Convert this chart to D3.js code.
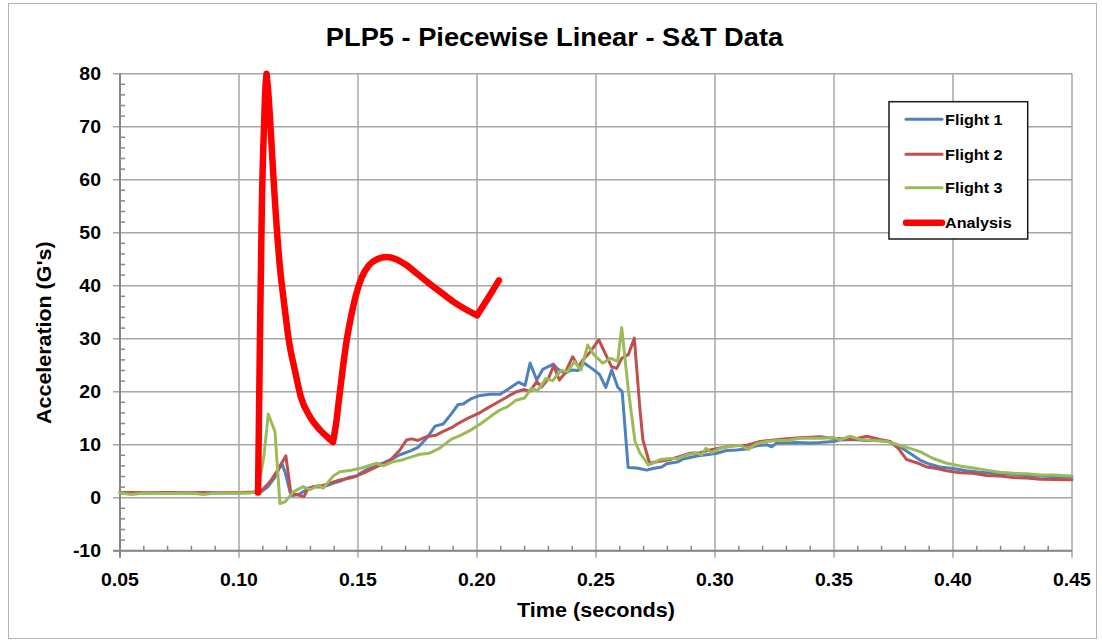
<!DOCTYPE html>
<html>
<head>
<meta charset="utf-8">
<script src="https://cdn.jsdelivr.net/npm/d3@7"></script>
<style>
  html, body { margin: 0; padding: 0; background: #ffffff; }
  svg { display: block; }
  text { font-family: "Liberation Sans", Arial, sans-serif; font-weight: bold; fill: #000; }
</style>
</head>
<body>
<svg id="chart" width="1102" height="642"></svg>
<script>
// ---- Data: time (s), acceleration (G's) ----
const flight1 = [
  [0.050,0.9],[0.060,0.9],[0.070,0.9],[0.080,0.9],[0.090,0.9],[0.100,0.9],[0.106,1.0],[0.109,1.0],
  [0.112,2.0],[0.115,3.8],[0.118,6.5],[0.1195,4.6],[0.1215,1.0],[0.1225,0.4],[0.125,0.6],[0.128,1.4],
  [0.131,2.0],[0.134,2.0],[0.137,2.3],[0.140,2.8],[0.143,3.2],[0.146,3.8],[0.1494,4.1],[0.152,4.9],
  [0.155,5.6],[0.1578,6.2],[0.161,6.6],[0.1648,7.4],[0.1676,8.1],[0.1718,8.8],[0.1752,9.5],[0.1788,11.2],
  [0.1824,13.5],[0.1858,13.9],[0.1894,15.9],[0.1921,17.6],[0.1942,17.7],[0.1977,18.7],[0.2013,19.3],
  [0.2055,19.5],[0.2097,19.5],[0.2132,20.5],[0.2174,21.8],[0.2202,21.2],[0.2223,25.4],[0.2251,22.2],
  [0.2276,24.2],[0.2321,25.2],[0.2341,24.2],[0.2370,23.5],[0.2398,24.1],[0.2424,24.0],[0.2450,25.4],
  [0.2482,24.4],[0.2514,23.3],[0.2541,20.8],[0.2566,24.1],[0.2591,20.9],[0.2610,20.0],[0.2635,5.7],
  [0.2671,5.6],[0.2713,5.2],[0.2739,5.5],[0.2776,5.8],[0.2797,6.4],[0.2846,6.8],[0.2866,7.3],[0.2895,7.6],
  [0.2929,7.9],[0.2965,8.1],[0.3007,8.4],[0.3049,8.9],[0.3091,9.0],[0.3133,9.2],[0.3175,9.8],[0.3217,10.0],
  [0.3238,9.6],[0.3259,10.3],[0.3301,10.3],[0.3343,10.4],[0.3400,10.3],[0.3441,10.4],[0.3497,10.6],
  [0.3525,10.9],[0.3580,11.0],[0.3637,10.8],[0.3693,10.8],[0.3735,10.6],[0.3777,9.6],[0.3819,8.4],
  [0.3861,7.1],[0.3903,6.3],[0.3945,5.8],[0.4001,5.5],[0.4057,5.1],[0.4113,4.8],[0.4169,4.6],[0.4226,4.5],
  [0.4282,4.3],[0.4338,4.1],[0.4422,4.0],[0.4500,3.9]
];

const flight2 = [
  [0.050,1.0],[0.060,1.0],[0.070,1.0],[0.080,1.0],[0.090,1.0],[0.100,1.0],[0.108,1.1],[0.110,1.6],
  [0.113,3.0],[0.116,5.0],[0.1197,7.9],[0.1218,0.8],[0.1242,0.6],[0.1273,0.2],[0.1291,1.8],[0.1318,2.1],
  [0.135,2.3],[0.138,2.7],[0.142,3.3],[0.1476,3.8],[0.152,4.6],[0.1578,5.8],[0.1634,7.0],[0.1676,9.0],
  [0.1704,10.9],[0.1725,11.1],[0.1752,10.8],[0.1786,11.5],[0.1828,11.8],[0.1858,12.5],[0.1893,13.2],
  [0.1921,14.0],[0.1963,15.0],[0.2006,15.9],[0.2047,17.0],[0.2091,18.1],[0.2133,19.2],[0.2167,20.0],
  [0.2195,20.4],[0.2223,20.1],[0.2251,21.9],[0.2272,20.9],[0.2300,22.5],[0.2322,24.9],[0.2346,22.2],
  [0.2370,23.5],[0.2402,26.6],[0.2426,24.7],[0.2445,26.0],[0.2470,27.2],[0.2512,29.8],[0.2538,27.3],
  [0.2566,24.7],[0.2587,24.4],[0.2608,26.3],[0.2636,27.0],[0.2661,30.1],[0.2685,16.5],[0.2697,10.9],
  [0.2725,6.5],[0.2756,6.8],[0.2811,7.2],[0.2853,7.8],[0.2895,8.4],[0.2937,8.5],[0.2979,9.0],[0.3021,9.4],
  [0.3076,9.8],[0.3134,9.9],[0.3190,10.6],[0.3246,10.9],[0.3302,11.1],[0.3357,11.3],[0.3441,11.5],
  [0.3496,11.2],[0.3580,11.0],[0.3637,11.6],[0.3693,11.0],[0.3735,10.6],[0.3770,9.3],[0.3805,7.2],
  [0.3847,6.6],[0.3889,5.8],[0.3932,5.5],[0.3973,5.1],[0.4029,4.7],[0.4085,4.6],[0.4141,4.2],[0.4197,4.1],
  [0.4254,3.8],[0.4310,3.7],[0.4366,3.5],[0.4500,3.4]
];

const flight3 = [
  [0.050,0.9],[0.0549,0.6],[0.060,0.9],[0.070,0.8],[0.080,0.9],[0.085,0.6],[0.090,0.9],[0.100,0.9],
  [0.105,0.9],[0.108,1.3],[0.1105,8.0],[0.1123,15.8],[0.1151,12.5],[0.1172,-1.1],[0.1193,-0.8],
  [0.1228,1.1],[0.1270,2.1],[0.1298,1.5],[0.1333,2.3],[0.1354,1.8],[0.1396,4.1],[0.1424,4.9],[0.1473,5.2],
  [0.1515,5.6],[0.1578,6.5],[0.1606,6.0],[0.1648,6.8],[0.1683,7.1],[0.1725,7.7],[0.1760,8.2],[0.1800,8.4],
  [0.1842,9.3],[0.1891,11.0],[0.1933,11.8],[0.1975,12.8],[0.2017,14.0],[0.2059,15.4],[0.2094,16.5],
  [0.2129,17.2],[0.2164,18.4],[0.2200,18.8],[0.2227,20.6],[0.2255,20.2],[0.2290,22.5],[0.2318,22.1],
  [0.2353,24.0],[0.2380,23.8],[0.2409,25.7],[0.2437,24.1],[0.2465,28.8],[0.2493,26.9],[0.2528,25.4],
  [0.2563,26.3],[0.2591,25.7],[0.2608,32.1],[0.2636,20.3],[0.2664,10.6],[0.2685,8.4],[0.2720,6.2],
  [0.2740,6.5],[0.2769,7.2],[0.2811,7.4],[0.2846,7.4],[0.2881,8.1],[0.2923,8.4],[0.2944,8.1],[0.2962,9.3],
  [0.2986,8.5],[0.3021,9.3],[0.3063,9.7],[0.3105,9.9],[0.3140,9.1],[0.3175,10.2],[0.3217,10.6],
  [0.3259,10.8],[0.3301,10.8],[0.3357,11.2],[0.3412,11.2],[0.3454,11.2],[0.3497,11.4],[0.3525,10.9],
  [0.3567,11.6],[0.3609,11.0],[0.3664,10.8],[0.3722,10.6],[0.3769,10.0],[0.3819,9.3],[0.3861,8.7],
  [0.3917,7.4],[0.3973,6.5],[0.4029,6.0],[0.4085,5.6],[0.4141,5.2],[0.4197,4.8],[0.4254,4.6],[0.4310,4.5],
  [0.4366,4.3],[0.4422,4.3],[0.4500,4.1]
];

// Analysis prediction, split where the curve has sharp corners
const analysisRise = [[0.1080,1.0],[0.1088,30],[0.1096,55],[0.1105,70],[0.1112,78],[0.1116,80]];
const analysisDecay = [
  [0.1116,80],[0.1124,76],[0.1135,68],[0.1148,58],[0.1160,50],[0.1172,43.5],[0.1190,36.5],
  [0.1210,29.5],[0.1235,24],[0.1260,19],[0.1298,15.3],[0.1340,12.8],[0.1370,11.5],[0.1395,10.5]
];
const analysisRebound = [
  [0.1395,10.5],[0.1408,14],[0.1420,18.5],[0.1435,24],[0.1450,29],[0.1470,34],[0.1490,38],
  [0.1515,41.5],[0.1545,43.8],[0.1580,45],[0.1620,45.4],[0.1660,45],[0.1700,44],[0.1750,42.2],
  [0.1800,40.4],[0.1850,38.7],[0.1900,37.0],[0.1950,35.6],[0.2000,34.4]
];
const analysisTail = [[0.2000,34.4],[0.2050,37.9],[0.2092,41.0]];

const seriesNames = ["Flight 1", "Flight 2", "Flight 3", "Analysis"];
const seriesColors = ["#4F81BD", "#C0504D", "#9BBB59", "#FF0000"];
const xTickValues = [0.05, 0.10, 0.15, 0.20, 0.25, 0.30, 0.35, 0.40, 0.45];
const yTickValues = [-10, 0, 10, 20, 30, 40, 50, 60, 70, 80];
const chartTitle = "PLP5 - Piecewise Linear - S&T Data";
const xTitle = "Time (seconds)";
const yTitle = "Acceleration (G's)";

// ---- Layout ----
const svg = d3.select("#chart");
const plot = { left: 120, right: 1072, top: 73.7, bottom: 550.7 };
const x = d3.scaleLinear().domain([0.05, 0.45]).range([plot.left, plot.right]);
const y = d3.scaleLinear().domain([-10, 80]).range([plot.bottom, plot.top]);
const gridColor = "#a6a6a6";
const axisColor = "#868686";

// widen text slightly to the wide bold face used in the chart
function widen(sel, k) {
  sel.each(function () {
    const w = this.getComputedTextLength();
    d3.select(this).attr("textLength", w * k).attr("lengthAdjust", "spacingAndGlyphs");
  });
}

// outer chart frame
svg.append("rect").attr("x", 8.5).attr("y", 3.5).attr("width", 1088).attr("height", 635)
  .attr("fill", "#fff").attr("stroke", "#b3b3b3").attr("stroke-width", 1);

// title
svg.append("text").attr("x", 554.5).attr("y", 46).attr("text-anchor", "middle")
  .style("font-size", "25px").text(chartTitle).call(widen, 1.09);

// grid lines
const grid = svg.append("g");
grid.selectAll("line.h").data(yTickValues).join("line")
  .attr("x1", plot.left - 7).attr("x2", plot.right)
  .attr("y1", d => y(d)).attr("y2", d => y(d))
  .attr("stroke", gridColor).attr("stroke-width", 1.5);
grid.selectAll("line.v").data(xTickValues).join("line")
  .attr("x1", d => x(d)).attr("x2", d => x(d))
  .attr("y1", plot.top).attr("y2", plot.bottom + 7)
  .attr("stroke", gridColor).attr("stroke-width", 1.5);

// axes with inner minor ticks
const axes = svg.append("g");
axes.append("line").attr("x1", plot.left).attr("x2", plot.left).attr("y1", plot.top).attr("y2", plot.bottom + 7)
  .attr("stroke", axisColor).attr("stroke-width", 2);
axes.append("line").attr("x1", plot.left - 7).attr("x2", plot.right).attr("y1", plot.bottom).attr("y2", plot.bottom)
  .attr("stroke", axisColor).attr("stroke-width", 2);
const yMinor = d3.range(-10, 80.01, 2).filter(v => v % 10 !== 0);
axes.selectAll("line.ym").data(yMinor).join("line")
  .attr("x1", plot.left).attr("x2", plot.left + 5)
  .attr("y1", d => y(d)).attr("y2", d => y(d))
  .attr("stroke", axisColor).attr("stroke-width", 1.5);
const xMinor = d3.range(0.05, 0.4501, 0.01).filter(v => Math.abs(v * 20 - Math.round(v * 20)) > 1e-6);
axes.selectAll("line.xm").data(xMinor).join("line")
  .attr("x1", d => x(d)).attr("x2", d => x(d))
  .attr("y1", plot.bottom).attr("y2", plot.bottom - 5)
  .attr("stroke", axisColor).attr("stroke-width", 1.5);

// tick labels
const fmt = d3.format(".2f");
axes.selectAll("text.xl").data(xTickValues).join("text")
  .attr("x", d => x(d)).attr("y", 586).attr("text-anchor", "middle")
  .style("font-size", "18px").text(d => fmt(d)).call(widen, 1.08);
axes.selectAll("text.yl").data(yTickValues).join("text")
  .attr("x", 101).attr("y", d => y(d) + 6.5).attr("text-anchor", "end")
  .style("font-size", "18px").text(d => d).call(widen, 1.08);

// axis titles
svg.append("text").attr("x", 596).attr("y", 617).attr("text-anchor", "middle")
  .style("font-size", "20px").text(xTitle).call(widen, 1.08);
svg.append("text").attr("transform", "translate(51,332.7) rotate(-90)").attr("text-anchor", "middle")
  .style("font-size", "21px").text(yTitle).call(widen, 1.02);

// flight series
const line = d3.line().x(d => x(d[0])).y(d => y(d[1]));
const smooth = d3.line().x(d => x(d[0])).y(d => y(d[1])).curve(d3.curveMonotoneX);
const lines = svg.append("g");
[flight1, flight2, flight3].forEach((s, i) => {
  lines.append("path").datum(s).attr("d", line)
    .attr("fill", "none").attr("stroke", seriesColors[i]).attr("stroke-width", 3)
    .attr("stroke-linejoin", "round").attr("stroke-linecap", "round");
});

// analysis curve, joined from its smooth pieces into one path
const analysisPath = [analysisRise, analysisDecay, analysisRebound, analysisTail]
  .map((seg, i) => {
    const d = smooth(seg);
    return i === 0 ? d : "L" + d.slice(1);
  }).join("");
lines.append("path").attr("d", analysisPath)
  .attr("fill", "none").attr("stroke", seriesColors[3]).attr("stroke-width", 6.5)
  .attr("stroke-linejoin", "round").attr("stroke-linecap", "round");

// legend
const legend = svg.append("g");
legend.append("rect").attr("x", 889).attr("y", 101.7).attr("width", 138.7).attr("height", 137.3)
  .attr("fill", "#fff").attr("stroke", "#1a1a1a").attr("stroke-width", 1.5);
const legendY = [119.3, 154.3, 187.7, 222.7];
seriesNames.forEach((name, i) => {
  legend.append("line").attr("x1", 906).attr("x2", 942).attr("y1", legendY[i]).attr("y2", legendY[i])
    .attr("stroke", seriesColors[i]).attr("stroke-width", i === 3 ? 6.5 : 3).attr("stroke-linecap", "round");
  legend.append("text").attr("x", 945).attr("y", legendY[i] + 5.5)
    .style("font-size", "15px").text(name).call(widen, 1.08);
});
</script>
</body>
</html>
